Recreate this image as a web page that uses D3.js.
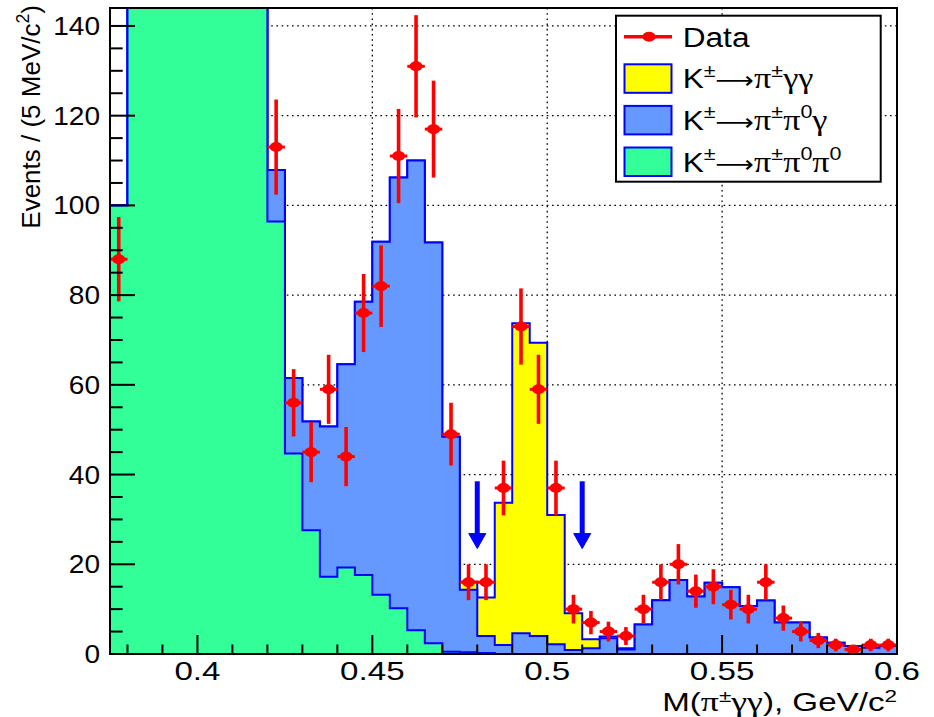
<!DOCTYPE html>
<html><head><meta charset="utf-8">
<script src="https://cdn.jsdelivr.net/npm/d3@7"></script>
<style>body{margin:0;background:#fff} svg{display:block}</style>
</head><body>
<svg id="c" width="934" height="717"></svg>
<script>
// ---------------- data ----------------
const binStart = 0.375, binWidth = 0.005, nBins = 45;
// observed events per 5 MeV bin (bins 1-8 are far off scale)
const dataCounts = [88, 190, 310, 430, 520, 560, 520, 400, 250, 113, 56, 45, 59, 44, 76, 82, 111, 131, 117, 49,
  16, 16, 37, 73, 59, 37, 10, 7, 5, 4, 10, 16, 20, 14, 15, 11, 10, 16, 8, 5, 3, 2, 1, 2, 2];
const dataErrors = [9.4, 13.8, 17.6, 20.7, 22.8, 23.7, 22.8, 20.0, 15.8, 10.6, 7.5, 6.7, 7.7, 6.6, 8.7, 9.1, 10.5, 11.4, 10.8, 7.0,
  4.0, 4.0, 6.1, 8.5, 7.7, 6.1, 3.2, 2.6, 2.2, 2.0, 3.2, 4.0, 4.5, 3.7, 3.9, 3.3, 3.2, 4.0, 2.8, 2.2, 1.7, 1.4, 1.0, 1.4, 1.4];
// K -> pi pi0 pi0 (bottom of stack)
const hPiPi0Pi0 = [100, 190, 305, 420, 510, 550, 510, 390, 240, 96.4, 44.7, 27.6, 17.2, 19.3, 17.6, 13.2, 10.2, 5.3, 2.4, 0.5,
  0.4, 0.2, 0, 0, 0, 0, 0, 0, 0, 0, 0, 0, 0, 0, 0, 0, 0, 0, 0, 0, 0, 0, 0, 0, 0];
// K -> pi pi0 gamma
const hPiPi0Gamma = [0, 1, 2, 3, 4, 5, 6, 8, 10, 11.5, 16.8, 24.2, 33.5, 45.3, 60.9, 78.7, 96.0, 104.7, 89.3, 47.9,
  13.9, 3.8, 2.0, 4.6, 4.0, 2.2, 0.9, 1.3, 3.5, 1.0, 6.6, 12.0, 16.5, 12.8, 15.9, 14.9, 10.7, 11.9, 7.0, 7.0, 3.7, 2.5, 1.8, 1.4, 1.8];
// K -> pi gamma gamma (top of stack)
const hPiGammaGamma = [0, 0, 0, 0, 0, 0, 0, 0, 0, 0, 0, 0, 0, 0, 0, 0, 0, 0, 0, 0,
  1.8, 8.6, 31.7, 69.1, 65.4, 28.8, 8.2, 2.0, 0.4, 0.3, 0, 0, 0, 0, 0, 0, 0, 0, 0, 0, 0, 0, 0, 0, 0];
const xTickValues = [0.4, 0.45, 0.5, 0.55, 0.6];
const xTickLabels = ["0.4", "0.45", "0.5", "0.55", "0.6"];
const yTickValues = [0, 20, 40, 60, 80, 100, 120, 140];
const yTickLabels = ["0", "20", "40", "60", "80", "100", "120", "140"];
const cutValues = [0.48, 0.51];
const arrowFrom = 38.5, arrowTo = 23.5;

// ---------------- layout ----------------
const L = 110, R = 897, T = 8, B = 654;
const x = d3.scaleLinear().domain([0.375, 0.6]).range([L, R]);
const y = d3.scaleLinear().domain([0, 144]).range([B, T]);
const svg = d3.select("#c");
const FONT = "'Liberation Sans', Arial, Helvetica, sans-serif";
const GREEK = "'Liberation Serif', 'DejaVu Serif', serif";
const ARROWF = "'DejaVu Sans', sans-serif";
const cGreen = "#33ff99", cBlue = "#6699ff", cYellow = "#ffff00", cLine = "#0000ff", cRed = "#ff0000";

svg.append("defs").append("clipPath").attr("id", "plotclip")
  .append("rect").attr("x", L).attr("y", T).attr("width", R - L).attr("height", B - T);

// grid
const grid = svg.append("g").attr("stroke", "#000").attr("stroke-width", 1.3).attr("stroke-dasharray", "1.6,3.6");
yTickValues.filter(v => v > 0).forEach(v => grid.append("line").attr("x1", L).attr("x2", R).attr("y1", y(v)).attr("y2", y(v)));
xTickValues.filter(v => v < 0.6).forEach(v => grid.append("line").attr("y1", T).attr("y2", B).attr("x1", x(v)).attr("x2", x(v)));

// stacked histograms
const edges = d3.range(nBins + 1).map(i => binStart + i * binWidth);
const cum1 = hPiPi0Pi0.slice();
const cum2 = cum1.map((v, i) => v + hPiPi0Gamma[i]);
const cum3 = cum2.map((v, i) => v + hPiGammaGamma[i]);
const area = d3.area().x(d => x(d[0])).y0(y(0)).y1(d => y(d[1])).curve(d3.curveStepAfter);
function pts(arr) { const p = arr.map((v, i) => [edges[i], v]); p.push([edges[nBins], arr[nBins - 1]]); return p; }
const hg = svg.append("g").attr("clip-path", "url(#plotclip)");
[[cum3, cYellow], [cum2, cBlue], [cum1, cGreen]].forEach(([arr, col]) => {
  hg.append("path").attr("d", area(pts(arr))).attr("fill", col)
    .attr("stroke", cLine).attr("stroke-width", 2).attr("stroke-linejoin", "miter");
});

// arrows
const ag = svg.append("g").attr("fill", cLine).attr("stroke", cLine);
cutValues.forEach(c => {
  const cx = x(c), y0 = y(arrowFrom), y1 = y(arrowTo);
  ag.append("line").attr("x1", cx).attr("x2", cx).attr("y1", y0).attr("y2", y1 - 10).attr("stroke-width", 5);
  ag.append("path").attr("stroke-width", 1).attr("stroke-linejoin", "round")
    .attr("d", `M${cx - 8.5},${y1 - 15} L${cx + 8.5},${y1 - 15} L${cx},${y1} Z`);
});

// data points
const dg = svg.append("g").attr("clip-path", "url(#plotclip)");
dataCounts.forEach((c, i) => {
  const e = dataErrors[i];
  const cx = x(edges[i] + binWidth / 2), cy = y(c);
  dg.append("line").attr("x1", cx).attr("x2", cx).attr("y1", y(c - e)).attr("y2", y(c + e))
    .attr("stroke", cRed).attr("stroke-width", 3.6);
  dg.append("line").attr("x1", x(edges[i])).attr("x2", x(edges[i + 1])).attr("y1", cy).attr("y2", cy)
    .attr("stroke", cRed).attr("stroke-width", 3);
  dg.append("ellipse").attr("cx", cx).attr("cy", cy).attr("rx", 6.5).attr("ry", 5).attr("fill", cRed);
});

// frame
svg.append("rect").attr("x", L).attr("y", T).attr("width", R - L).attr("height", B - T)
  .attr("fill", "none").attr("stroke", "#000").attr("stroke-width", 2);

// ticks
const tk = svg.append("g").attr("stroke", "#000").attr("stroke-width", 2);
d3.range(38, 61).forEach(k => {
  const v = k / 100, major = (k % 5 === 0);
  if (v <= 0.375 || v >= 0.6) return;
  tk.append("line").attr("x1", x(v)).attr("x2", x(v)).attr("y1", B).attr("y2", B - (major ? 19 : 9.5));
});
d3.range(0, 144, 5).forEach(v => {
  const major = (v % 20 === 0);
  if (v === 0) return;
  tk.append("line").attr("x1", L).attr("x2", L + (major ? 25 : 12.7)).attr("y1", y(v)).attr("y2", y(v));
});

// text helper: segs are strings or {t, sup, g (greek), a (arrow)}
function addText(parent, tx, ty, anchor, sx, fs, segs, rot, supShift) {
  const sh = supShift || 0.42;
  const g = parent.append("g").attr("transform", `translate(${tx},${ty})` + (rot ? ` rotate(${rot})` : "") + ` scale(${sx},1)`);
  const t = g.append("text").attr("text-anchor", anchor).attr("font-family", FONT).attr("font-size", fs).attr("fill", "#000");
  let shifted = 0;
  segs.forEach(s => {
    const o = typeof s === "string" ? {t: s} : s;
    const ts = t.append("tspan").text(o.t);
    if (o.g) ts.attr("font-family", GREEK).attr("font-size", fs * 1.08);
    if (o.a) ts.attr("font-family", ARROWF).attr("font-size", fs * 0.85);
    if (o.sup) {
      ts.attr("font-size", fs * 0.68);
      if (!shifted) { ts.attr("dy", -fs * sh); shifted = 1; }
    } else if (shifted) { ts.attr("dy", fs * sh); shifted = 0; }
  });
  return t;
}

// tick labels
xTickValues.forEach((v, i) => addText(svg, x(v), 679.5, "middle", 1.3, 25.5, [xTickLabels[i]]));
yTickValues.forEach((v, i) => addText(svg, 100, y(v) + 9.1, "end", 1.1, 25.5, [yTickLabels[i]]));

// axis titles
const PM = {t: "\u00b1", sup: 1}, ZERO = {t: "0", sup: 1};
const PI = {t: "\u03c0", g: 1}, GG = {t: "\u03b3\u03b3", g: 1}, G1 = {t: "\u03b3", g: 1}, AR = {t: "\u27f6", a: 1};
addText(svg, 897, 711, "end", 1.3, 25.5, ["M(", PI, PM, GG, "), GeV/c", {t: "2", sup: 1}], 0, 0.36);
addText(svg, 40, 5, "end", 1, 26, ["Events / (5 MeV/c", {t: "2", sup: 1}, ")"], -90);

// legend
const lg = svg.append("g");
lg.append("rect").attr("x", 616).attr("y", 15.7).attr("width", 264.7).attr("height", 166)
  .attr("fill", "#fff").attr("stroke", "#000").attr("stroke-width", 2);
const legendEntries = [
  {type: "data", segs: ["Data"]},
  {type: "box", color: cYellow, segs: ["K", PM, AR, PI, PM, GG]},
  {type: "box", color: cBlue, segs: ["K", PM, AR, PI, PM, PI, ZERO, G1]},
  {type: "box", color: cGreen, segs: ["K", PM, AR, PI, PM, PI, ZERO, PI, ZERO]}
];
legendEntries.forEach((e, i) => {
  const cy = 36.7 + i * 41.6;
  if (e.type === "data") {
    lg.append("line").attr("x1", 624).attr("x2", 672).attr("y1", cy).attr("y2", cy).attr("stroke", cRed).attr("stroke-width", 3.4);
    lg.append("ellipse").attr("cx", 649).attr("cy", cy).attr("rx", 6.5).attr("ry", 5).attr("fill", cRed);
  } else {
    lg.append("rect").attr("x", 624.5).attr("y", cy - 14).attr("width", 47).attr("height", 28.5)
      .attr("fill", e.color).attr("stroke", cLine).attr("stroke-width", 2);
  }
  addText(lg, 682.7, cy + 10, "start", 1.15, 27.5, e.segs);
});
</script>
</body></html>
